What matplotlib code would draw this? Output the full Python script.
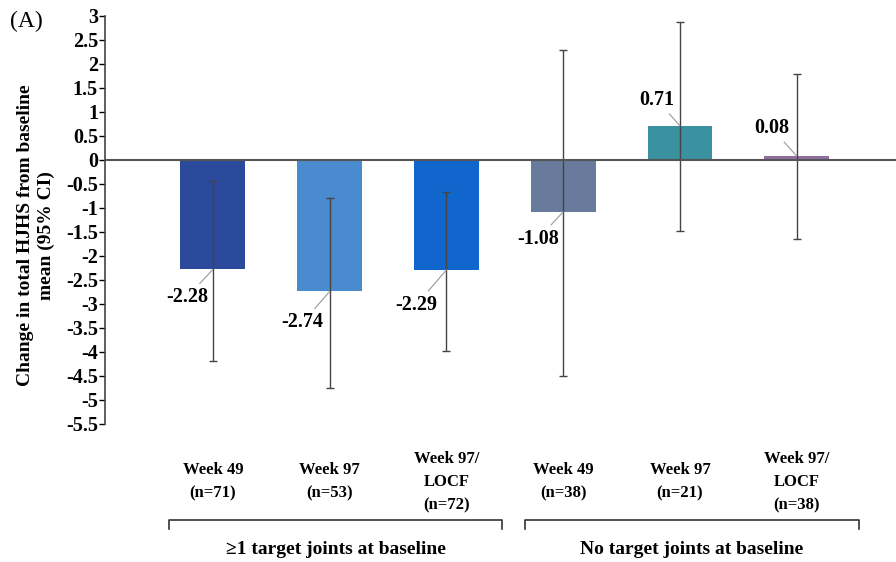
"""Change in total HJHS from baseline, by target-joint status (panel A)."""

import matplotlib
matplotlib.use("Agg")
import matplotlib.pyplot as plt
from matplotlib import transforms
import numpy as np

plt.rcParams["font.family"] = ["Liberation Serif", "DejaVu Serif"]

# data
categories = ["Week 49\n(n=71)", "Week 97\n(n=53)", "Week 97/\nLOCF\n(n=72)",
              "Week 49\n(n=38)", "Week 97\n(n=21)", "Week 97/\nLOCF\n(n=38)"]
means = [-2.28, -2.74, -2.29, -1.08, 0.71, 0.08]
ci_low = [-4.19, -4.75, -3.98, -4.50, -1.48, -1.65]
ci_high = [-0.44, -0.79, -0.67, 2.29, 2.87, 1.79]
groups = ["\u22651 target joints at baseline", "No target joints at baseline"]
group_members = [(0, 2), (3, 5)]
colors = ["#2C4A9C", "#4A8BCF", "#1066CC", "#687B9D", "#3A92A0", "#8E6E9E"]

# label offsets from the bar end, in pixels
label_offsets = [(-26, -28), (-27, -31), (-30, -35), (-25, -27), (-23, 26), (-25, 28)]
bracket_pads = [(0.377, 0.48), (0.325, 0.53)]

x = np.arange(len(means))
means_arr = np.array(means)
yerr = np.vstack([means_arr - np.array(ci_low), np.array(ci_high) - means_arr])

fig = plt.figure(figsize=(8.96, 5.62), dpi=100)
ax = fig.add_axes([0.117, 0.2456, 0.883, 0.726])

ax.bar(x, means, width=0.555, color=colors, zorder=2)
ax.errorbar(x, means, yerr=yerr, fmt="none", ecolor="#444444", elinewidth=1.0,
            capsize=3, capthick=1.0, zorder=3)
ax.axhline(0, color="#555555", lw=1.5, zorder=4)

for xi, m, (dx, dy) in zip(x, means, label_offsets):
    ax.annotate(f"{m:.2f}", xy=(xi, m), xytext=(dx, dy), textcoords="offset pixels",
                ha="center", va="center", fontsize=14.5, fontweight="bold",
                arrowprops=dict(arrowstyle="-", color="#999999", lw=0.8,
                                shrinkA=1, shrinkB=0), zorder=5)

ax.set_xlim(-0.925, 5.85)
ax.set_ylim(-5.5, 3)
yt = np.arange(-5.5, 3.01, 0.5)
ax.set_yticks(yt)
ax.set_yticklabels([f"{v:g}" for v in yt], fontsize=14.5, fontweight="bold")
ax.tick_params(axis="y", length=4, width=1, pad=1)
ax.set_xticks([])
for side in ["top", "right", "bottom"]:
    ax.spines[side].set_visible(False)
ax.spines["left"].set_linewidth(1.2)
ax.spines["left"].set_color("#444444")

ax.set_ylabel("Change in total HJHS from baseline\nmean (95% CI)",
              fontsize=14, fontweight="bold", linespacing=1.25)
ax.yaxis.set_label_coords(-0.063, 0.462)

# category labels below the plot
mixed = transforms.blended_transform_factory(ax.transData, fig.transFigure)
for xi, lab in zip(x, categories):
    ax.text(xi, 1 - 482 / 562, lab, transform=mixed, ha="center", va="center",
            fontsize=12, fontweight="bold", linespacing=1.6)

# group brackets
yb = 1 - 520 / 562
ytip = 1 - 529 / 562
for name, (a, b), (pl, pr) in zip(groups, group_members, bracket_pads):
    x0, x1 = a - pl, b + pr
    ax.plot([x0, x0, x1, x1], [ytip, yb, yb, ytip], color="#333333", lw=1.2,
            transform=mixed, clip_on=False)
    ax.text((x0 + x1) / 2, 1 - 549 / 562, name, transform=mixed,
            ha="center", va="center", fontsize=14, fontweight="bold")

fig.text(0.011, 0.962, "(A)", fontsize=17, ha="left", va="center")

fig.savefig("out.png", dpi=100)
